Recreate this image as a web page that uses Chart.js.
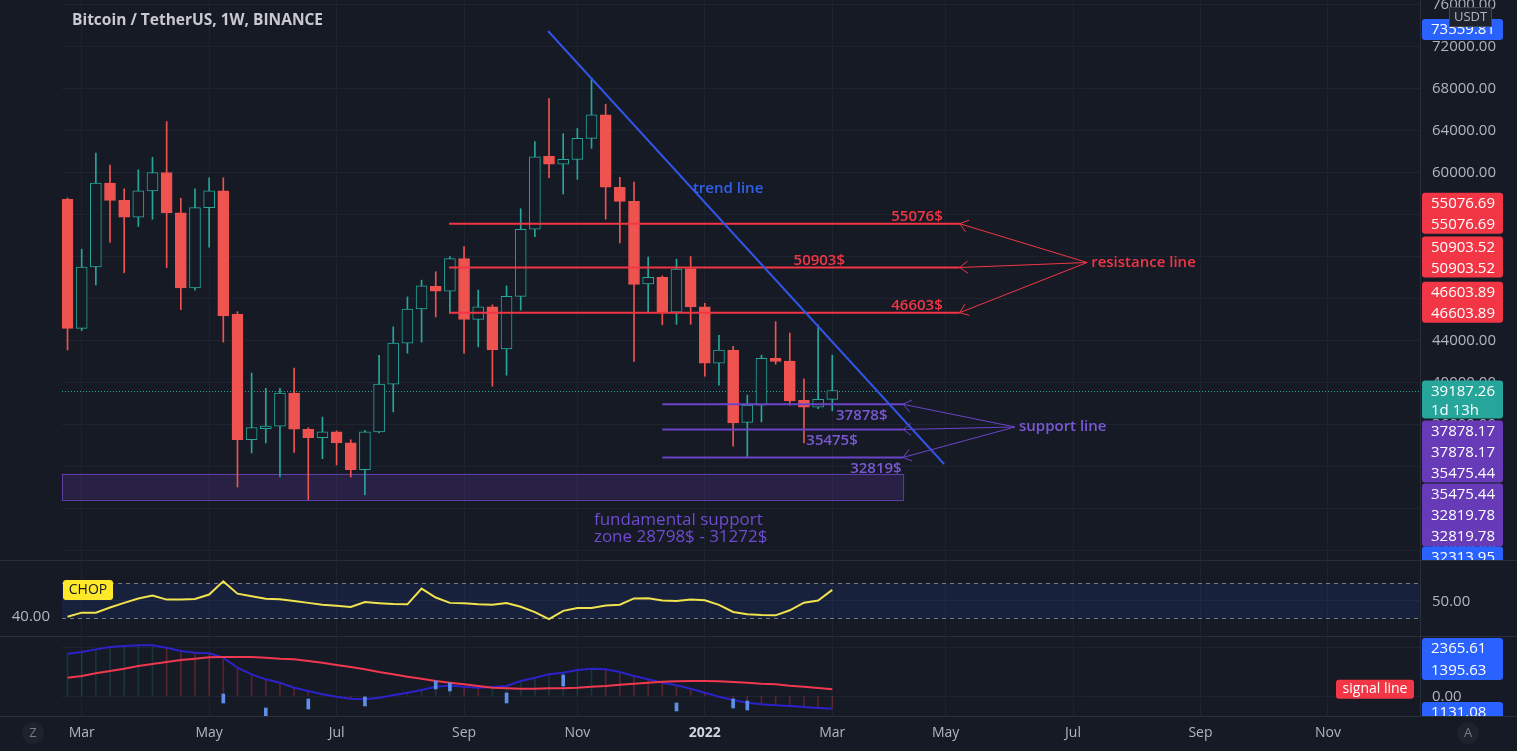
<!DOCTYPE html>
<html>
<head>
<meta charset="utf-8">
<title>Bitcoin / TetherUS, 1W, BINANCE</title>
<script src="https://cdn.jsdelivr.net/npm/chart.js@4.4.1/dist/chart.umd.min.js"></script>
<style>
  body { margin: 0; background: #161a25; overflow: hidden; }
  #wrap { position: relative; width: 1517px; height: 751px; background: #161a25; }
  canvas { position: absolute; left: 0; }
  #main { top: 0; }
  #chop { top: 561px; }
  #macd { top: 637px; }
  .sep { position: absolute; background: #2a2e39; }
</style>
</head>
<body>
<div id="wrap">
  <canvas id="main" width="1517" height="560"></canvas>
  <canvas id="chop" width="1517" height="76"></canvas>
  <canvas id="macd" width="1517" height="114"></canvas>
  <div class="sep" style="left:0;top:560px;width:1517px;height:1px"></div>
  <div class="sep" style="left:0;top:636px;width:1517px;height:1px"></div>
  <div class="sep" style="left:0;top:716px;width:1517px;height:1px"></div>
</div>
<script>
// ---- weekly candles BTCUSDT ----
var weeks = ['2021-02-22','2021-03-01','2021-03-08','2021-03-15','2021-03-22','2021-03-29','2021-04-05','2021-04-12','2021-04-19','2021-04-26',
  '2021-05-03','2021-05-10','2021-05-17','2021-05-24','2021-05-31','2021-06-07','2021-06-14','2021-06-21','2021-06-28','2021-07-05',
  '2021-07-12','2021-07-19','2021-07-26','2021-08-02','2021-08-09','2021-08-16','2021-08-23','2021-08-30','2021-09-06','2021-09-13',
  '2021-09-20','2021-09-27','2021-10-04','2021-10-11','2021-10-18','2021-10-25','2021-11-01','2021-11-08','2021-11-15','2021-11-22',
  '2021-11-29','2021-12-06','2021-12-13','2021-12-20','2021-12-27','2022-01-03','2022-01-10','2022-01-17','2022-01-24','2022-01-31',
  '2022-02-07','2022-02-14','2022-02-21','2022-02-28','2022-03-07'];
var opens  = [57400,45100,50950,58950,57300,55700,58200,59950,56100,48950,56600,58200,46450,34500,35550,35800,38950,35500,34700,35250,
  34200,31650,35250,39800,43700,46950,49100,48650,51750,45950,47150,43150,48150,54550,61500,60750,61200,63200,65450,58550,
  57200,49330,49970,46650,50800,47150,41800,43050,36150,37800,42250,42000,38250,37600,38350];
var highs  = [57530,52650,61800,60650,58400,60200,61400,64800,57500,58400,59450,59450,46700,40850,39400,39400,41330,35650,36650,35350,
  34500,35400,42550,45250,48100,49700,50500,51950,52900,48750,47350,49150,56500,62900,67000,63650,64150,68950,66450,59500,
  59050,51900,50100,51700,51950,47500,44450,43400,38750,42550,45750,44650,40300,45450,42550];
var lows   = [43050,44900,49250,53300,50400,54800,55500,50900,46900,48750,52850,43800,30000,33250,34200,30950,33300,28800,32700,32100,
  30950,29250,35150,37150,42750,43800,46200,46550,42750,43350,39600,40650,46850,53850,59450,57900,59300,62250,55500,53250,
  41950,46700,45450,45500,45500,40550,39700,33900,32900,36200,41700,37800,34200,37450,37250];
var closes = [45100,50950,58950,57300,55700,58200,59950,56100,48950,56600,58200,46300,34500,35650,35800,38950,35500,34700,35250,34200,
  31650,35250,39800,43700,46950,49150,48650,51750,45950,47150,43050,48150,54550,61450,60750,61200,63200,65450,58550,57200,
  49300,49970,46600,50750,47150,41800,43050,36100,37800,42250,41950,38200,37600,38350,39187.26];

// ---- indicators ----
var chop = [39.2,42.0,42.0,45.5,48.6,51.5,53.5,50.8,50.8,51.2,54.2,63.1,54.8,53.0,51.4,51.0,49.8,48.6,47.4,46.6,
  45.9,49.2,48.4,47.8,47.6,58.2,52.2,48.6,48.4,47.6,47.4,48.5,46.0,42.4,37.6,43.2,45.1,45.2,46.8,47.4,
  51.6,51.7,50.2,49.9,50.8,50.4,47.3,42.5,40.9,40.4,40.2,43.6,48.7,50.2,57.4];
var chopBands = [61.8, 38.2];
var macd = [8798,9152,9714,10192,10400,10546,10546,10046,9360,9006,8882,7966,5886,4514,3474,2766,1726,1040,354,-146,
  -562,-686,-354,146,686,1248,1934,2163,1934,1726,1872,2080,3120,3806,4514,4846,5408,5678,5554,4992,
  4160,3474,2766,2226,1518,686,-146,-832,-1394,-1726,-1934,-2080,-2288,-2496,-2642];
var signal = [3806,4160,4722,5200,5678,6240,6656,7072,7488,7758,8050,8112,8112,8112,7966,7758,7634,7280,6926,6448,
  6032,5554,4992,4514,4014,3598,3120,2766,2434,2080,1726,1602,1518,1518,1602,1602,1726,1934,2080,2350,
  2558,2766,2974,3058,3120,3120,3058,2912,2766,2558,2434,2142,1934,1664,1394];
var markIdx = [11,14,17,21,26,27,31,35,43,47,48];
var markHi  = [417,-2500,-625,-208,3125,2708,625,4375,-1458,-625,-1042];
var markLo  = [-1458,-4166,-2708,-2083,1458,1042,-1458,2083,-3125,-2500,-2916];

// ---- axes ----
var monthIdx = [1,10,19,28,36,45,54,62,71,80,89];
var monthTxt = ['Mar','May','Jul','Sep','Nov','2022','Mar','May','Jul','Sep','Nov'];
var priceTicks = [24000,28000,32000,36000,40000,44000,48000,52000,56000,60000,64000,68000,72000,76000];
var extraTags = [73559.81, 32313.95];
var macdTags = [2365.61, 1395.63, 1131.08];

// ---- drawings ----
var resistance = [55076.69, 50903.52, 46603.89];
var support = [37878.17, 35475.44, 32819.78];
var zone = [28798, 31272];
var trendX = [33.93, 61.89];
var trendY = [73429, 32190];

var BG = '#161a25', GRID = '#1f2330', AXT = '#b2b5be';
var UP = '#26a69a', DOWN = '#ef5350', RED = '#f23645', PURPLE = '#6b45c9', BLUE = '#2962ff';
var FONT = "'Open Sans', 'Noto Sans', sans-serif";
Chart.defaults.font.family = FONT;

function candleColor(i) { return closes[i] >= opens[i] ? UP : DOWN; }

function timeAxis(show) {
  return {
    type: 'linear', min: -0.39, max: 95.5, offset: false,
    grid: { color: GRID, drawTicks: false, offset: false },
    border: { display: false },
    afterBuildTicks: function (s) { s.ticks = monthIdx.map(function (v) { return { value: v }; }); },
    ticks: {
      display: show, autoSkip: false, maxRotation: 0, padding: 9,
      callback: function (v, i) { return monthTxt[i]; },
      color: function (ctx) { return monthTxt[ctx.index] === '2022' ? '#d1d4dc' : AXT; },
      font: function (ctx) { return { size: 14, weight: monthTxt[ctx.index] === '2022' ? 'bold' : 'normal' }; }
    },
    afterFit: function (s) { s.height = show ? 35 : 0; }
  };
}

function valueAxis(pos, min, max, list, width, grid) {
  return {
    position: pos, min: min, max: max,
    grid: { display: grid, color: GRID, drawTicks: false },
    border: { display: pos === 'right', color: '#2a2e39' },
    afterBuildTicks: function (s) { s.ticks = list.map(function (v) { return { value: v }; }); },
    ticks: { color: AXT, font: { size: 15 }, padding: 12, labelOffset: 1, callback: function (v) { return v.toFixed(2); } },
    afterFit: function (s) { s.width = width; s.paddingTop = 0; s.paddingBottom = 0; }
  };
}

function box(c, x, y, w, h, color) {
  c.fillStyle = color;
  c.beginPath();
  c.moveTo(x + 3, y); c.lineTo(x + w - 3, y); c.quadraticCurveTo(x + w, y, x + w, y + 3);
  c.lineTo(x + w, y + h - 3); c.quadraticCurveTo(x + w, y + h, x + w - 3, y + h);
  c.lineTo(x + 3, y + h); c.quadraticCurveTo(x, y + h, x, y + h - 3);
  c.lineTo(x, y + 3); c.quadraticCurveTo(x, y, x + 3, y);
  c.fill();
}

function write(c, text, x, y, color, size, align, weight) {
  c.font = (weight || 'normal') + ' ' + size + 'px ' + FONT;
  c.fillStyle = color;
  c.textAlign = align || 'left';
  c.textBaseline = 'middle';
  c.fillText(text, x, y);
}

function arrow(c, x1, y1, x2, y2, color) {
  var ang = Math.atan2(y1 - y2, x1 - x2);
  c.strokeStyle = color; c.lineWidth = 1;
  c.beginPath(); c.moveTo(x1, y1); c.lineTo(x2, y2); c.stroke();
  c.beginPath();
  c.moveTo(x2 + 10 * Math.cos(ang - 0.65), y2 + 10 * Math.sin(ang - 0.65));
  c.lineTo(x2, y2);
  c.lineTo(x2 + 10 * Math.cos(ang + 0.65), y2 + 10 * Math.sin(ang + 0.65));
  c.stroke();
}

function tag(c, a, top, h, color, texts, step) {
  box(c, a.right + 2, top, 81, h, color);
  texts.forEach(function (t, k) { write(c, t, a.right + 11, top + 11 + k * step, '#ffffff', 15); });
}

// annotations of the price pane
var mainNotes = {
  id: 'mainNotes',
  beforeDatasetsDraw: function (chart) {
    var c = chart.ctx, a = chart.chartArea, x = chart.scales.x, y = chart.scales.y;
    c.save();
    var zr = x.getPixelForValue(59), zt = y.getPixelForValue(zone[1]), zb = y.getPixelForValue(zone[0]);
    c.fillStyle = 'rgba(103,58,183,0.22)';
    c.fillRect(a.left, zt, zr - a.left, zb - zt);
    c.strokeStyle = '#5b3ea6'; c.lineWidth = 1;
    c.strokeRect(a.left + 0.5, Math.round(zt) + 0.5, zr - a.left, Math.round(zb - zt));
    var lp = Math.round(y.getPixelForValue(closes[closes.length - 1])) + 0.5;
    c.strokeStyle = UP; c.setLineDash([1, 2]);
    c.beginPath(); c.moveTo(a.left, lp); c.lineTo(a.right, lp); c.stroke();
    c.restore();
  },
  afterDatasetsDraw: function (chart) {
    var c = chart.ctx, x = chart.scales.x, y = chart.scales.y;
    c.save();
    var resLabelAt = [61.8, 54.9, 61.8], supLabelAt = [57.9, 55.8, 58.9];
    var rx = x.getPixelForValue(72), ry = y.getPixelForValue(51380);
    resistance.forEach(function (lv, k) {
      var p = y.getPixelForValue(lv);
      write(c, Math.floor(lv) + '$', x.getPixelForValue(resLabelAt[k]), p - 7, RED, 15, 'right', '600');
      arrow(c, rx, ry, x.getPixelForValue(63), p, RED);
    });
    write(c, 'resistance line', rx + 4, ry, RED, 15, 'left', '600');
    var sx = x.getPixelForValue(66.9), sy = y.getPixelForValue(35714);
    support.forEach(function (lv, k) {
      var p = y.getPixelForValue(lv);
      write(c, Math.floor(lv) + '$', x.getPixelForValue(supLabelAt[k]), p + 11, '#7a58d6', 15, 'right', '600');
      arrow(c, sx, sy, x.getPixelForValue(59), p, PURPLE);
    });
    write(c, 'support line', sx + 4, sy, '#7a58d6', 15, 'left', '600');
    write(c, 'trend line', x.getPixelForValue(44.16), y.getPixelForValue(58381), '#3160ea', 15, 'left', '600');
    write(c, 'fundamental support', x.getPixelForValue(37.17), y.getPixelForValue(26857), '#6f4bd0', 17);
    write(c, 'zone ' + zone[0] + '$ - ' + zone[1] + '$', x.getPixelForValue(37.17), y.getPixelForValue(25238), '#6f4bd0', 17);
    c.restore();
  },
  afterDraw: function (chart) {
    var c = chart.ctx, a = chart.chartArea, y = chart.scales.y;
    c.save();
    write(c, 'Bitcoin / TetherUS, 1W, BINANCE', a.left + 10, 21, '#c8cad0', 15.5, 'left', 'bold');
    // price scale tags
    tag(c, a, y.getPixelForValue(extraTags[0]) - 10.5, 21, BLUE, [extraTags[0].toFixed(2)], 0);
    resistance.forEach(function (lv) {
      var p = y.getPixelForValue(lv);
      tag(c, a, p - 31, 41, RED, [lv.toFixed(2), lv.toFixed(2)], 21);
    });
    var lp = y.getPixelForValue(closes[closes.length - 1]);
    tag(c, a, lp - 10, 38, UP, [closes[closes.length - 1].toFixed(2), '1d 13h'], 19);
    var t1 = lp + 30;
    tag(c, a, t1, 62, '#673ab7', [support[0].toFixed(2), support[0].toFixed(2), support[1].toFixed(2)], 21);
    tag(c, a, t1 + 63, 63, '#673ab7', [support[1].toFixed(2), support[2].toFixed(2), support[2].toFixed(2)], 21);
    tag(c, a, t1 + 126, 22, BLUE, [extraTags[1].toFixed(2)], 0);
    box(c, a.right + 29, 7, 43, 20, '#1e222d');
    c.strokeStyle = '#434651'; c.strokeRect(a.right + 29.5, 7.5, 42, 19);
    write(c, 'USDT', a.right + 50.5, 17.5, AXT, 13, 'center');
    c.restore();
  }
};

var mainSets = [
  {
    label: 'body',
    data: weeks.map(function (w, i) { return { x: i, y: [opens[i], closes[i]] }; }),
    backgroundColor: weeks.map(function (w, i) { return closes[i] >= opens[i] ? BG : DOWN; }),
    borderColor: weeks.map(function (w, i) { return candleColor(i); }),
    borderWidth: 1, borderSkipped: false, barThickness: 11, minBarLength: 2, grouped: false, order: 1
  },
  {
    label: 'wick',
    data: weeks.map(function (w, i) { return { x: i, y: [lows[i], highs[i]] }; }),
    backgroundColor: weeks.map(function (w, i) { return candleColor(i); }),
    barThickness: 1, grouped: false, order: 2
  },
  {
    type: 'line', label: 'trend',
    data: [{ x: trendX[0], y: trendY[0] }, { x: trendX[1], y: trendY[1] }],
    borderColor: '#3154e4', borderWidth: 2, pointRadius: 0, order: -1
  }
];
resistance.forEach(function (lv) {
  mainSets.push({ type: 'line', data: [{ x: 26.94, y: lv }, { x: 63, y: lv }], borderColor: RED, borderWidth: 2, pointRadius: 0, order: -1 });
});
support.forEach(function (lv) {
  mainSets.push({ type: 'line', data: [{ x: 42, y: lv }, { x: 59, y: lv }], borderColor: PURPLE, borderWidth: 2, pointRadius: 0, order: -1 });
});

new Chart(document.getElementById('main'), {
  type: 'bar',
  data: { datasets: mainSets },
  options: {
    responsive: false, animation: false, events: [],
    layout: { padding: { left: 62 } },
    plugins: { legend: { display: false }, tooltip: { enabled: false } },
    scales: {
      x: timeAxis(false),
      y: valueAxis('right', 23048, 76381, priceTicks, 97, true)
    }
  },
  plugins: [mainNotes]
});

// CHOP pane
var chopNotes = {
  id: 'chopNotes',
  beforeDatasetsDraw: function (chart) {
    var c = chart.ctx, a = chart.chartArea, y = chart.scales.y;
    var t = y.getPixelForValue(chopBands[0]), b = y.getPixelForValue(chopBands[1]);
    c.save();
    c.fillStyle = 'rgba(41,98,255,0.1)';
    c.fillRect(a.left, t, a.right - a.left, b - t);
    c.strokeStyle = '#787b86'; c.lineWidth = 1; c.setLineDash([4, 4]);
    [t, b].forEach(function (p) {
      c.beginPath(); c.moveTo(a.left, Math.round(p) + 0.5); c.lineTo(a.right, Math.round(p) + 0.5); c.stroke();
    });
    c.restore();
  },
  afterDraw: function (chart) {
    var c = chart.ctx, a = chart.chartArea;
    c.save();
    box(c, a.left + 1, 19, 50, 20, '#fde82a');
    write(c, 'CHOP', a.left + 26, 29.5, '#131722', 14, 'center');
    c.restore();
  }
};

new Chart(document.getElementById('chop'), {
  type: 'line',
  data: {
    datasets: [{
      data: chop.map(function (v, i) { return { x: i, y: v }; }),
      borderColor: '#f0e34e', borderWidth: 2, pointRadius: 0, tension: 0
    }]
  },
  options: {
    responsive: false, animation: false, events: [],
    plugins: { legend: { display: false }, tooltip: { enabled: false } },
    scales: {
      x: timeAxis(false),
      y: valueAxis('right', 25.59, 76.84, [50], 97, true),
      yl: valueAxis('left', 25.59, 76.84, [40], 62, false)
    }
  },
  plugins: [chopNotes]
});

// MACD pane
var macdNotes = {
  id: 'macdNotes',
  afterDraw: function (chart) {
    var c = chart.ctx, a = chart.chartArea, y = chart.scales.y;
    c.save();
    c.beginPath(); c.rect(0, 0, chart.width, a.bottom); c.clip();
    tag(c, a, a.top + 1, 42, BLUE, [macdTags[0].toFixed(2), macdTags[1].toFixed(2)], 22);
    tag(c, a, a.top + 65, 22, BLUE, [macdTags[2].toFixed(2)], 0);
    var sp = y.getPixelForValue(signal[signal.length - 1]);
    box(c, a.right - 84, sp - 9.5, 78, 19, RED);
    write(c, 'signal line', a.right - 45, sp, '#ffffff', 14, 'center');
    c.restore();
    c.save();
    [[33, 'Z'], [1468, 'A']].forEach(function (b) {
      c.fillStyle = '#1e222d';
      c.beginPath(); c.arc(b[0], 96, 11, 0, Math.PI * 2); c.fill();
      write(c, b[1], b[0], 96, '#787b86', 13, 'center');
    });
    c.restore();
  }
};

new Chart(document.getElementById('macd'), {
  type: 'bar',
  data: {
    datasets: [
      {
        label: 'marks',
        data: markIdx.map(function (v, k) { return { x: v, y: [markLo[k], markHi[k]] }; }),
        backgroundColor: '#5d8fe8', barThickness: 3, grouped: false, order: 0
      },
      {
        type: 'line', label: 'signal',
        data: signal.map(function (v, i) { return { x: i, y: v }; }),
        borderColor: '#f0384f', borderWidth: 2, pointRadius: 0, order: 1
      },
      {
        type: 'line', label: 'macd',
        data: macd.map(function (v, i) { return { x: i, y: v }; }),
        borderColor: '#2c22c8', borderWidth: 2, pointRadius: 0, order: 2
      },
      {
        label: 'hist',
        data: macd.map(function (v, i) { return { x: i, y: v }; }),
        backgroundColor: macd.map(function (v, i) {
          return (i === 0 || v >= macd[i - 1]) ? 'rgba(38,166,154,0.2)' : 'rgba(242,54,69,0.3)';
        }),
        barThickness: 1, grouped: false, order: 3
      }
    ]
  },
  options: {
    responsive: false, animation: false, events: [],
    layout: { padding: { left: 62 } },
    plugins: { legend: { display: false }, tooltip: { enabled: false } },
    scales: {
      x: timeAxis(true),
      y: valueAxis('right', -4166, 12290, [0, 10000], 97, true)
    }
  },
  plugins: [macdNotes]
});
</script>
</body>
</html>
